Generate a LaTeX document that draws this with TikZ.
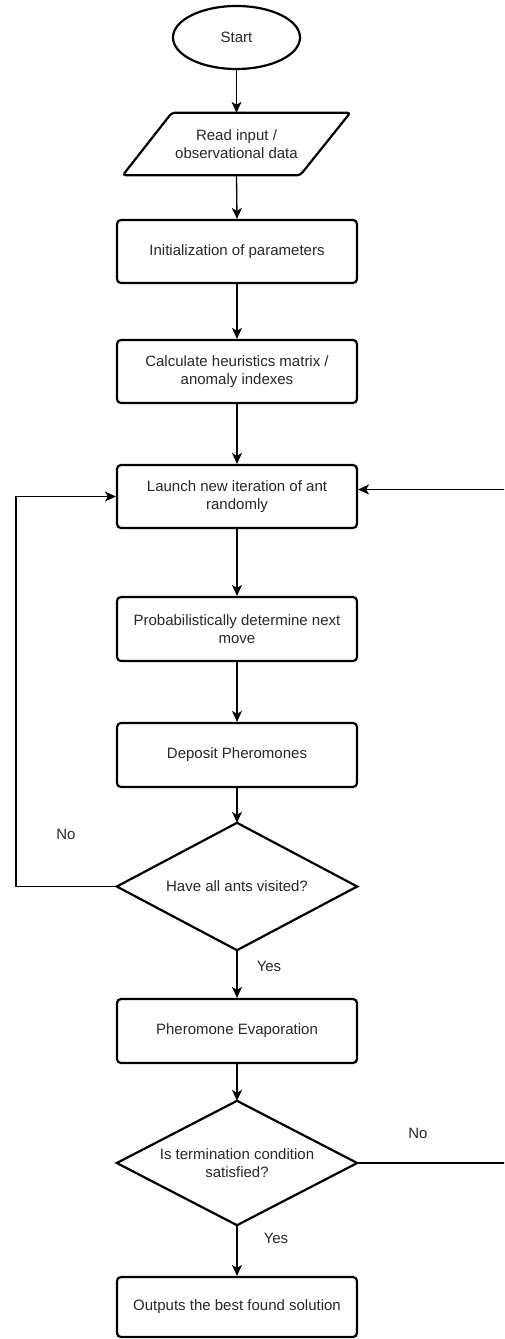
\documentclass[tikz,border=0pt]{standalone}
\usepackage{fontspec}
\setmainfont{Liberation Sans}
\usetikzlibrary{arrows.meta,shapes.geometric,calc}
\definecolor{txt}{RGB}{40,40,40}
\begin{document}
\begin{tikzpicture}[x=1pt,y=-1pt,
  every node/.style={font=\fontsize{15pt}{18pt}\selectfont, text=txt, inner sep=0pt},
  proc/.style={draw, line width=2.2pt, rounded corners=4pt, minimum width=240pt, align=center},
  term/.style={draw, line width=2.2pt, ellipse, minimum width=127pt, minimum height=63pt},
  plain/.style={minimum width=240pt, align=center},
  outline/.style={draw, line width=2.2pt},
  conn/.style={line width=1.3pt, -{Stealth[length=11pt,width=10pt,inset=3pt]}},
  lbl/.style={}
]
\useasboundingbox (0,0) rectangle (504,1339);
\clip (0,0) rectangle (504,1339);
\fill[white] (0,0) rectangle (504,1339);

\node[term] (start) at (236.5,37.5) {Start};
\node[minimum width=227pt, minimum height=62pt, align=center] (read) at (236.5,144) {Read input /\\observational data};
\draw[outline, rounded corners=3pt] ($(read.north west)+(49,0)$) -- (read.north east) -- ($(read.south east)+(-50,0)$) -- (read.south west) -- cycle;
\node[proc, minimum height=63pt] (init) at (237,251.5) {Initialization of parameters};
\node[proc, minimum height=63pt] (calc) at (237,371.5) {Calculate heuristics matrix /\\anomaly indexes};
\node[proc, minimum height=63pt] (launch) at (237,496.5) {Launch new iteration of ant\\randomly};
\node[proc, minimum height=64pt] (prob) at (237,629) {Probabilistically determine next\\move};
\node[proc, minimum height=64pt] (dep) at (237,755) {Deposit Pheromones};
\node[plain, minimum height=127pt] (d1) at (237,886.5) {Have all ants visited?};
\draw[outline, line join=miter] (d1.north) -- (d1.east) -- (d1.south) -- (d1.west) -- cycle;
\node[proc, minimum height=64pt] (evap) at (237,1031) {Pheromone Evaporation};
\node[plain, minimum height=124pt] (d2) at (237,1163) {Is termination condition\\satisfied?};
\draw[outline, line join=miter] (d2.north) -- (d2.east) -- (d2.south) -- (d2.west) -- cycle;
\node[proc, minimum height=60pt] (out) at (237,1307) {Outputs the best found solution};

\node[lbl] (no1) at (66,834) {No};
\node[lbl] (yes1) at (269,966) {Yes};
\node[lbl] (no2) at (418,1133) {No};
\node[lbl] (yes2) at (276,1238) {Yes};

\coordinate (lc) at (16,886.5);
\coordinate (rc) at (512,1163);

\draw[conn] (start.south) -- (read.north);
\draw[conn] (read.south) -- (init.north);
\draw[conn] (init.south) -- (calc.north);
\draw[conn] (calc.south) -- (launch.north);
\draw[conn] (launch.south) -- (prob.north);
\draw[conn] (prob.south) -- (dep.north);
\draw[conn] (dep.south) -- (d1.north);
\draw[conn] (d1.south) -- (evap.north);
\draw[conn] (evap.south) -- (d2.north);
\draw[conn] (d2.south) -- (out.north);
\draw[conn] (d1.west) -- (lc) |- (launch.west);
\draw[conn] (d2.east) -- (rc) |- ([yshift=7pt]launch.east);
\end{tikzpicture}
\end{document}
